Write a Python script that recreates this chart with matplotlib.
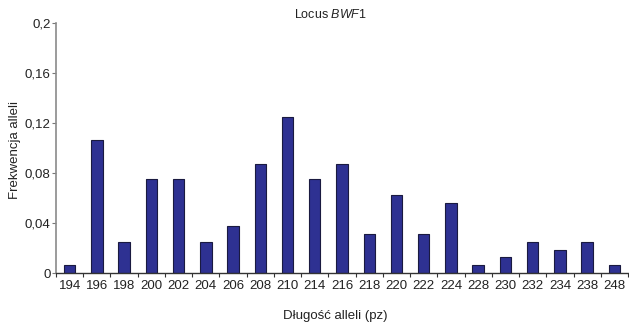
import matplotlib
matplotlib.use("Agg")
import matplotlib.pyplot as plt
from matplotlib.ticker import FixedLocator, FuncFormatter
import numpy as np

plt.rcParams['font.family'] = ['Liberation Sans', 'DejaVu Sans']
plt.rcParams['mathtext.fontset'] = 'custom'
plt.rcParams['mathtext.rm'] = 'Liberation Sans'
plt.rcParams['mathtext.it'] = 'Liberation Sans:italic'

alleles = ["194", "196", "198", "200", "202", "204", "206", "208", "210", "214", "216",
           "218", "220", "222", "224", "228", "230", "232", "234", "238", "248"]
frequency = [0.00625, 0.10625, 0.025, 0.075, 0.075, 0.025, 0.0375, 0.0875, 0.125, 0.075, 0.0875,
             0.03125, 0.0625, 0.03125, 0.05625, 0.00625, 0.0125, 0.025, 0.01875, 0.025, 0.00625]
y_ticks = [0, 0.04, 0.08, 0.12, 0.16, 0.2]

fig = plt.figure(figsize=(6.29, 3.24), dpi=100)
ax = fig.add_axes([56/629, 51/324, 572/629, 250/324])

x = np.arange(len(alleles))
# soft shadow on the right edge of each bar
ax.bar(x + 0.03, frequency, width=0.43, color='#b0b0b0', zorder=1)
ax.bar(x, frequency, width=0.42, color='#2e3192', edgecolor='#1a1a40', linewidth=0.8, zorder=2)

ax.set_xlim(-0.5, len(alleles) - 0.5)
ax.set_ylim(0, 0.2)

ax.set_xticks(x)
ax.set_xticklabels(alleles, fontsize=9.5)
ax.xaxis.set_minor_locator(FixedLocator(np.arange(-0.5, len(alleles), 1.0)))
ax.tick_params(axis='x', which='major', length=0, pad=5, colors='#222222')
ax.tick_params(axis='x', which='minor', length=3, width=0.8, color='#333333')

ax.set_yticks(y_ticks)
ax.yaxis.set_major_formatter(FuncFormatter(lambda v, p: ('%g' % v).replace('.', ',')))
ax.tick_params(axis='y', length=3, width=0.8, color='#777777', labelsize=9.5, labelcolor='#222222', pad=1)

for s in ['top', 'right']:
    ax.spines[s].set_visible(False)
ax.spines['left'].set_color('#8a8a8a')
ax.spines['left'].set_linewidth(1.2)
ax.spines['bottom'].set_color('#333333')
ax.spines['bottom'].set_linewidth(1.0)

fig.text(330/629, 1 - 14/324, r'Locus $\mathit{BWF}$1', ha='center', va='center', fontsize=9, color='#222222')
fig.text(335/629, 1 - 316/324, 'Długość alleli (pz)', ha='center', va='center', fontsize=9.5, color='#222222')
fig.text(15/629, 1 - 150/324, 'Frekwencja alleli', ha='center', va='center', rotation=90, fontsize=9.5, color='#222222')

fig.savefig('out.png', dpi=100)
